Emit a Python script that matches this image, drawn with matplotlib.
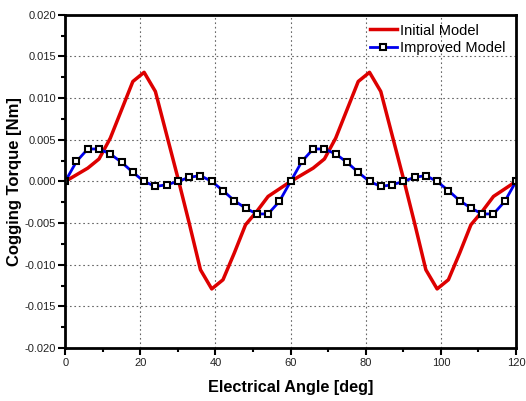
import numpy as np
import matplotlib.pyplot as plt
from matplotlib.ticker import MultipleLocator, FormatStrFormatter

plt.rcParams['font.family'] = ['Liberation Sans', 'DejaVu Sans']

# Electrical angle [deg], sampled every 3 deg
angle = list(range(0, 121, 3))

# one 60 deg period, repeated twice (value at 60 is shared)
initial_half = [0.0, 0.0008, 0.0016, 0.0027, 0.0052, 0.0086, 0.0120, 0.0131,
                0.0108, 0.0056, 0.0004, -0.0050, -0.0106, -0.0129, -0.0118,
                -0.0086, -0.0052, -0.0036, -0.0018, -0.0009]
improved_half = [0.0, 0.0024, 0.0039, 0.0039, 0.0033, 0.0023, 0.0011, 0.0,
                 -0.0006, -0.0004, 0.0, 0.0005, 0.0007, 0.0, -0.0011,
                 -0.0023, -0.0032, -0.0039, -0.0039, -0.0024]
initial = initial_half + initial_half + [0.0]
improved = improved_half + improved_half + [0.0]

fig = plt.figure(figsize=(5.26, 4.01), dpi=100)
ax = fig.add_axes([0.124, 0.132, 0.857, 0.831])

ax.plot(angle, initial, color='#dd0000', lw=2.5, label='Initial Model')
ax.plot(angle, improved, color='#0000ee', lw=2, marker='s', ms=5,
        mfc='white', mec='black', mew=1.5, label='Improved Model')

ax.set_xlim(0, 120)
ax.set_ylim(-0.020, 0.020)
ax.xaxis.set_major_locator(MultipleLocator(20))
ax.xaxis.set_minor_locator(MultipleLocator(10))
ax.yaxis.set_major_locator(MultipleLocator(0.005))
ax.yaxis.set_minor_locator(MultipleLocator(0.0025))
ax.yaxis.set_major_formatter(FormatStrFormatter('%.3f'))
ax.grid(True, which='major', color='#666666', ls=(0, (1.5, 2.5)), lw=0.8)
ax.tick_params(which='major', direction='out', length=5, width=1.5,
               labelsize=8, pad=2.5, colors='black', labelcolor='#222222')
ax.tick_params(axis='y', which='major', pad=1.5)
ax.tick_params(which='minor', direction='out', length=3, width=1.5)
for s in ax.spines.values():
    s.set_linewidth(2)

ax.set_xlabel('Electrical Angle [deg]', fontsize=11.7, fontweight='bold', labelpad=8)
ax.set_ylabel('Cogging Torque [Nm]', fontsize=12, fontweight='bold', labelpad=2)

ax.legend(loc='upper right', bbox_to_anchor=(0.995, 1.0), frameon=False,
          fontsize=10.5, handlelength=1.85, handletextpad=0.2, labelspacing=0.25,
          borderaxespad=0.2)

fig.savefig('out.png', dpi=100)
